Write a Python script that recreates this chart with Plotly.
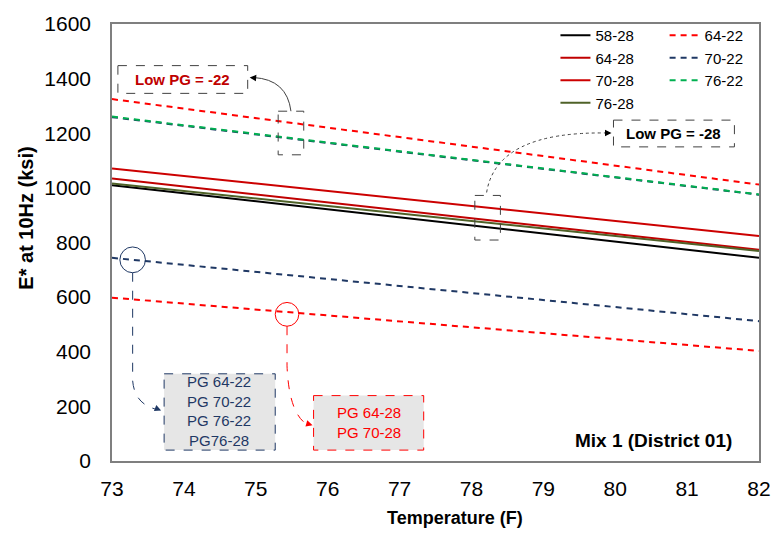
import plotly.graph_objects as go

# ---- data ----
temps = [73, 82]
s58_28 = [1010, 744]
s64_28 = [1034, 773]
s70_28 = [1071, 824]
s76_28 = [1016, 769]
s64_22 = [1325, 1012]
s70_22 = [744, 512]
s76_22 = [1261, 976]
s70_22_hi = [1259, 975]     # navy dashed hidden under green
s64_22_lo = [598, 403]      # lower red dashed (no legend entry)

x_ticks = [73, 74, 75, 76, 77, 78, 79, 80, 81, 82]
y_ticks = [0, 200, 400, 600, 800, 1000, 1200, 1400, 1600]

W, H = 783, 533
L, R, T, B = 112, 13, 20, 72
PW, PH = W - L - R, H - T - B

def px(xp):
    return 73 + (xp - L) * 9 / PW

def py(yp):
    return (T + PH - yp) * 1600 / PH

FONT = "Liberation Sans, Arial, sans-serif"
RED = "#FF0000"
DRED = "#C00000"
NAVY = "#1F3864"
GREEN = "#00B050"
OLIVE = "#4F6228"
DASH = "6px,5px"

fig = go.Figure()

def add(name, y, color, dash=None, legend="legend", show=True, width=2):
    fig.add_trace(go.Scatter(
        x=temps, y=y, mode="lines", name=name,
        line=dict(color=color, width=width, dash=dash if dash else "solid"),
        legend=legend, showlegend=show))

add("70-22b", s70_22_hi, NAVY, DASH, show=False)
add("64-22b", s64_22_lo, RED, DASH, show=False)
add("58-28", s58_28, "#000000")
add("64-28", s64_28, DRED)
add("70-28", s70_28, "#CC0000")
add("76-28", s76_28, OLIVE)
add("64-22", s64_22, RED, DASH, legend="legend2")
add("70-22", s70_22, NAVY, DASH, legend="legend2")
add("76-22", s76_22, GREEN, DASH, legend="legend2")

shapes = []

def rect(x0, y0, x1, y1, color, fill=None, dash="dash", width=1):
    shapes.append(dict(type="rect", xref="x", yref="y",
                       x0=px(x0), x1=px(x1), y0=py(y0), y1=py(y1),
                       line=dict(color=color, width=width, dash=dash),
                       fillcolor=fill if fill else "rgba(0,0,0,0)", layer="above"))

def path(pts, color, dash="solid", width=1):
    d = ""
    for cmd, coords in pts:
        d += cmd + " " + " ".join(f"{px(a):.5f},{py(b):.3f}" for a, b in coords) + " "
    shapes.append(dict(type="path", xref="x", yref="y", path=d.strip(),
                       line=dict(color=color, width=width, dash=dash), layer="above"))

def circle(cx, cy, r, color):
    shapes.append(dict(type="circle", xref="x", yref="y",
                       x0=px(cx - r), x1=px(cx + r), y0=py(cy + r), y1=py(cy - r),
                       line=dict(color=color, width=1), layer="above"))

# annotation boxes
rect(118, 62, 250, 90, "#404040")
rect(281, 108, 307, 152, "#404040")
rect(622, 117, 745, 144, "#404040")
rect(481, 193, 507, 238, "#404040")
rect(165, 373, 278, 450, NAVY, fill="#E6E6E6")
rect(317, 395, 429, 450, RED, fill="#E6E6E6")
circle(133, 258, 13, NAVY)
circle(290, 313, 12, RED)

# connectors
path([("M", [(294, 108)]), ("Q", [(290, 76), (256, 74)])], "#404040")
path([("M", [(493, 190)]), ("Q", [(503, 128), (616, 130)])], "#404040", dash="dot")
path([("M", [(133, 271)]), ("L", [(133, 380)]), ("Q", [(135, 404), (158, 409)])], NAVY, dash="dash")
path([("M", [(290, 325)]), ("L", [(290, 365)]), ("Q", [(292, 415), (312, 425)])], RED, dash="dash")

annotations = []

def text(xp, yp, t, color, size, bold=False, angle=0):
    annotations.append(dict(x=(xp - L) / PW, y=(T + PH - yp) / PH, xref="paper", yref="paper",
                            xanchor="center", yanchor="middle",
                            text=f"<b>{t}</b>" if bold else t, textangle=angle,
                            showarrow=False, font=dict(family=FONT, size=size, color=color),
                            align="center"))

def head(xp, yp, dxp, dyp, color):
    annotations.append(dict(x=px(xp), y=py(yp), xref="x", yref="y", text="", showarrow=True,
                            ax=dxp, ay=dyp, axref="pixel", ayref="pixel",
                            arrowhead=2, arrowsize=1.3, arrowwidth=1, arrowcolor=color))

text(184, 76, "Low PG = -22", DRED, 15, bold=True)
text(683, 130, "Low PG = -28", "#000000", 15, bold=True)
text(221, 411, "PG 64-22<br>PG 70-22<br>PG 76-22<br>PG76-28", NAVY, 15)
text(373, 422, "PG 64-28<br>PG 70-28", RED, 15)
text(663, 440, "Mix 1 (District 01)", "#000000", 19, bold=True)
text(461, 519, "Temperature (F)", "#000000", 18, bold=True)
text(25, 216, "E* at 10Hz (ksi)", "#000000", 20, bold=True, angle=-90)
head(252, 74, 6, 0.5, "#000000")
head(620, 130, -6, 0, "#000000")
head(162, 410, -5, -2, NAVY)
head(316, 425, -5, -1.5, RED)

fig.update_layout(
    width=W, height=H,
    margin=dict(l=L, r=R, t=T, b=B),
    paper_bgcolor="white", plot_bgcolor="white",
    font=dict(family=FONT, size=16, color="#000000"),
    shapes=shapes, annotations=annotations,
    xaxis=dict(range=[73, 82], tickvals=x_ticks, ticks="", showgrid=False, zeroline=False,
               showline=True, linecolor="#7F7F7F", linewidth=1.5, mirror=True,
               tickfont=dict(size=21), ticklabelstandoff=8),
    yaxis=dict(range=[0, 1600], tickvals=y_ticks, ticks="", showgrid=False, zeroline=False,
               showline=True, linecolor="#7F7F7F", linewidth=1.5, mirror=True,
               tickfont=dict(size=21), ticklabelstandoff=15),
    legend=dict(x=(563 - L) / PW, y=(T + PH - 15) / PH, xanchor="left", yanchor="top",
                bgcolor="rgba(0,0,0,0)", font=dict(size=15), tracegroupgap=0, itemwidth=30),
    legend2=dict(x=(674 - L) / PW, y=(T + PH - 15) / PH, xanchor="left", yanchor="top",
                 bgcolor="rgba(0,0,0,0)", font=dict(size=15), tracegroupgap=0, itemwidth=30),
)

fig.write_html("out.html")
